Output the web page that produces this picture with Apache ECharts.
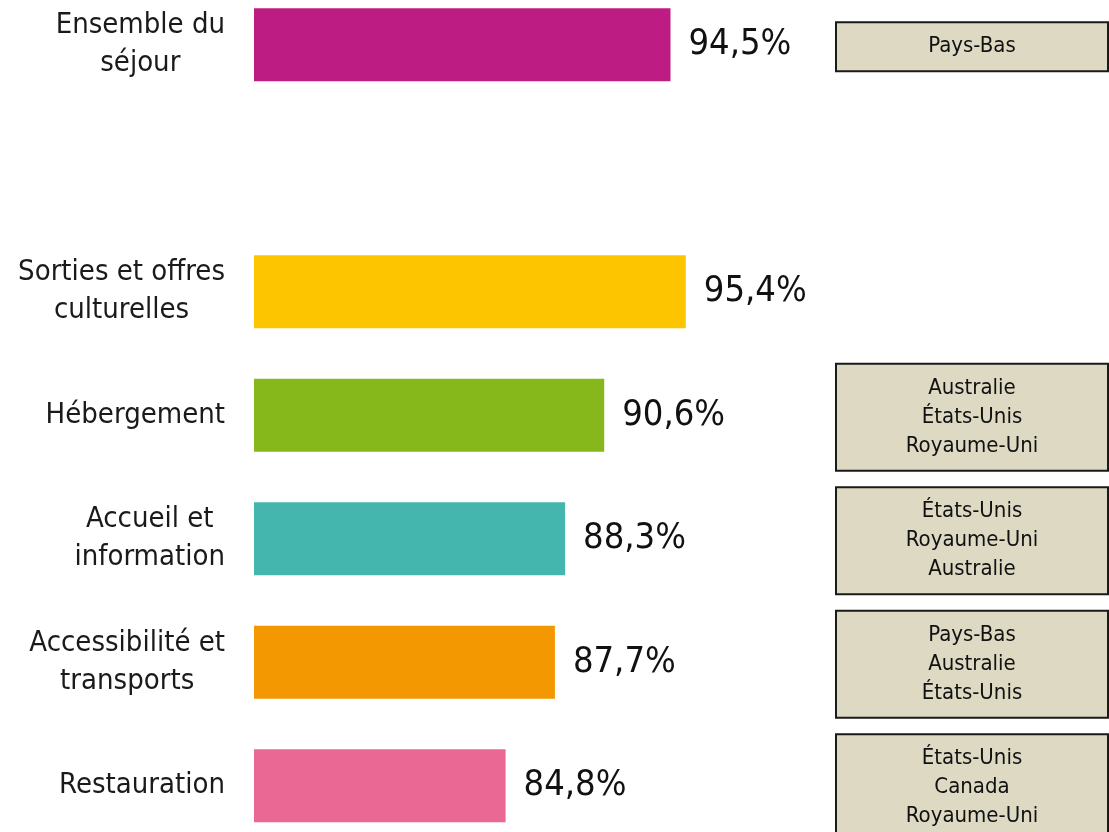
<!DOCTYPE html>
<html>
<head>
<meta charset="utf-8">
<script src="https://cdn.jsdelivr.net/npm/echarts@6/dist/echarts.min.js"></script>
<style>
  html, body { margin: 0; padding: 0; background: #fff; }
  #chart { width: 1109px; height: 832px; }
</style>
</head>
<body>
<div id="chart"></div>
<script>
// categories (one empty slot between the overall score and the detailed items)
const categories = ['Ensemble du\nséjour', '', 'Sorties et offres\nculturelles', 'Hébergement',
  'Accueil et\ninformation', 'Accessibilité et\ntransports', 'Restauration'];
const values = [94.5, null, 95.4, 90.6, 88.3, 87.7, 84.8];
const barColors = ['#bd1d82', null, '#fdc500', '#86b81c', '#45b6ad', '#f39800', '#ea6894'];
// best-ranked countries shown in the boxes on the right
const countries = [
  ['Pays-Bas'],
  [],
  [],
  ['Australie', 'États-Unis', 'Royaume-Uni'],
  ['États-Unis', 'Royaume-Uni', 'Australie'],
  ['Pays-Bas', 'Australie', 'États-Unis'],
  ['États-Unis', 'Canada', 'Royaume-Uni']
];

const FONT = "'DejaVu Sans Condensed', 'Liberation Sans Narrow', 'Noto Sans', sans-serif";

const chart = echarts.init(document.getElementById('chart'));

chart.setOption({
  animation: false,
  grid: { left: 254, width: 510, top: -17, height: 864.5, outerBoundsMode: 'none', containLabel: false },
  xAxis: { type: 'value', min: 70, max: 100, show: false },
  yAxis: {
    type: 'category',
    inverse: true,
    data: categories,
    axisLine: { show: false },
    axisTick: { show: false },
    splitLine: { show: false },
    axisLabel: {
      margin: 29,
      fontSize: 29,
      lineHeight: 38,
      color: '#1a1a1a',
      fontFamily: FONT,
      // lines centred on each other, block right-aligned to the bars
      formatter: v => v ? v.split('\n').map(l => '{c|' + l + '}').join('\n') : '',
      rich: {
        c: { align: 'center', fontSize: 29, lineHeight: 38, color: '#1a1a1a', fontFamily: FONT }
      }
    }
  },
  series: [
    {
      type: 'bar',
      barWidth: 73,
      data: values.map((v, i) => ({ value: v, itemStyle: { color: barColors[i] } })),
      label: {
        show: true,
        position: 'right',
        distance: 18,
        fontSize: 36,
        color: '#111',
        fontFamily: FONT,
        formatter: p => p.value == null ? '' : p.value.toFixed(1).replace('.', ',') + '%'
      }
    },
    {
      type: 'custom',
      clip: false,
      silent: true,
      data: countries.map((c, i) => [100, i]),
      renderItem: function (params, api) {
        const list = countries[params.dataIndex];
        if (!list.length) return null;
        const pt = api.coord([100, api.value(1)]);
        const lineH = 29;
        const h = list.length * lineH + 20;
        const x = pt[0] + 72;
        const w = 272;
        const cy = pt[1] + 2;
        return {
          type: 'group',
          children: [
            {
              type: 'rect',
              shape: { x: x, y: cy - h / 2, width: w, height: h },
              style: { fill: '#ddd9c3', stroke: '#1a1a1a', lineWidth: 2 }
            },
            {
              type: 'text',
              style: {
                x: x + w / 2,
                y: cy,
                text: list.join('\n'),
                align: 'center',
                verticalAlign: 'middle',
                lineHeight: lineH,
                fontSize: 22,
                fontFamily: FONT,
                fill: '#111'
              }
            }
          ]
        };
      }
    }
  ]
});
</script>
</body>
</html>
